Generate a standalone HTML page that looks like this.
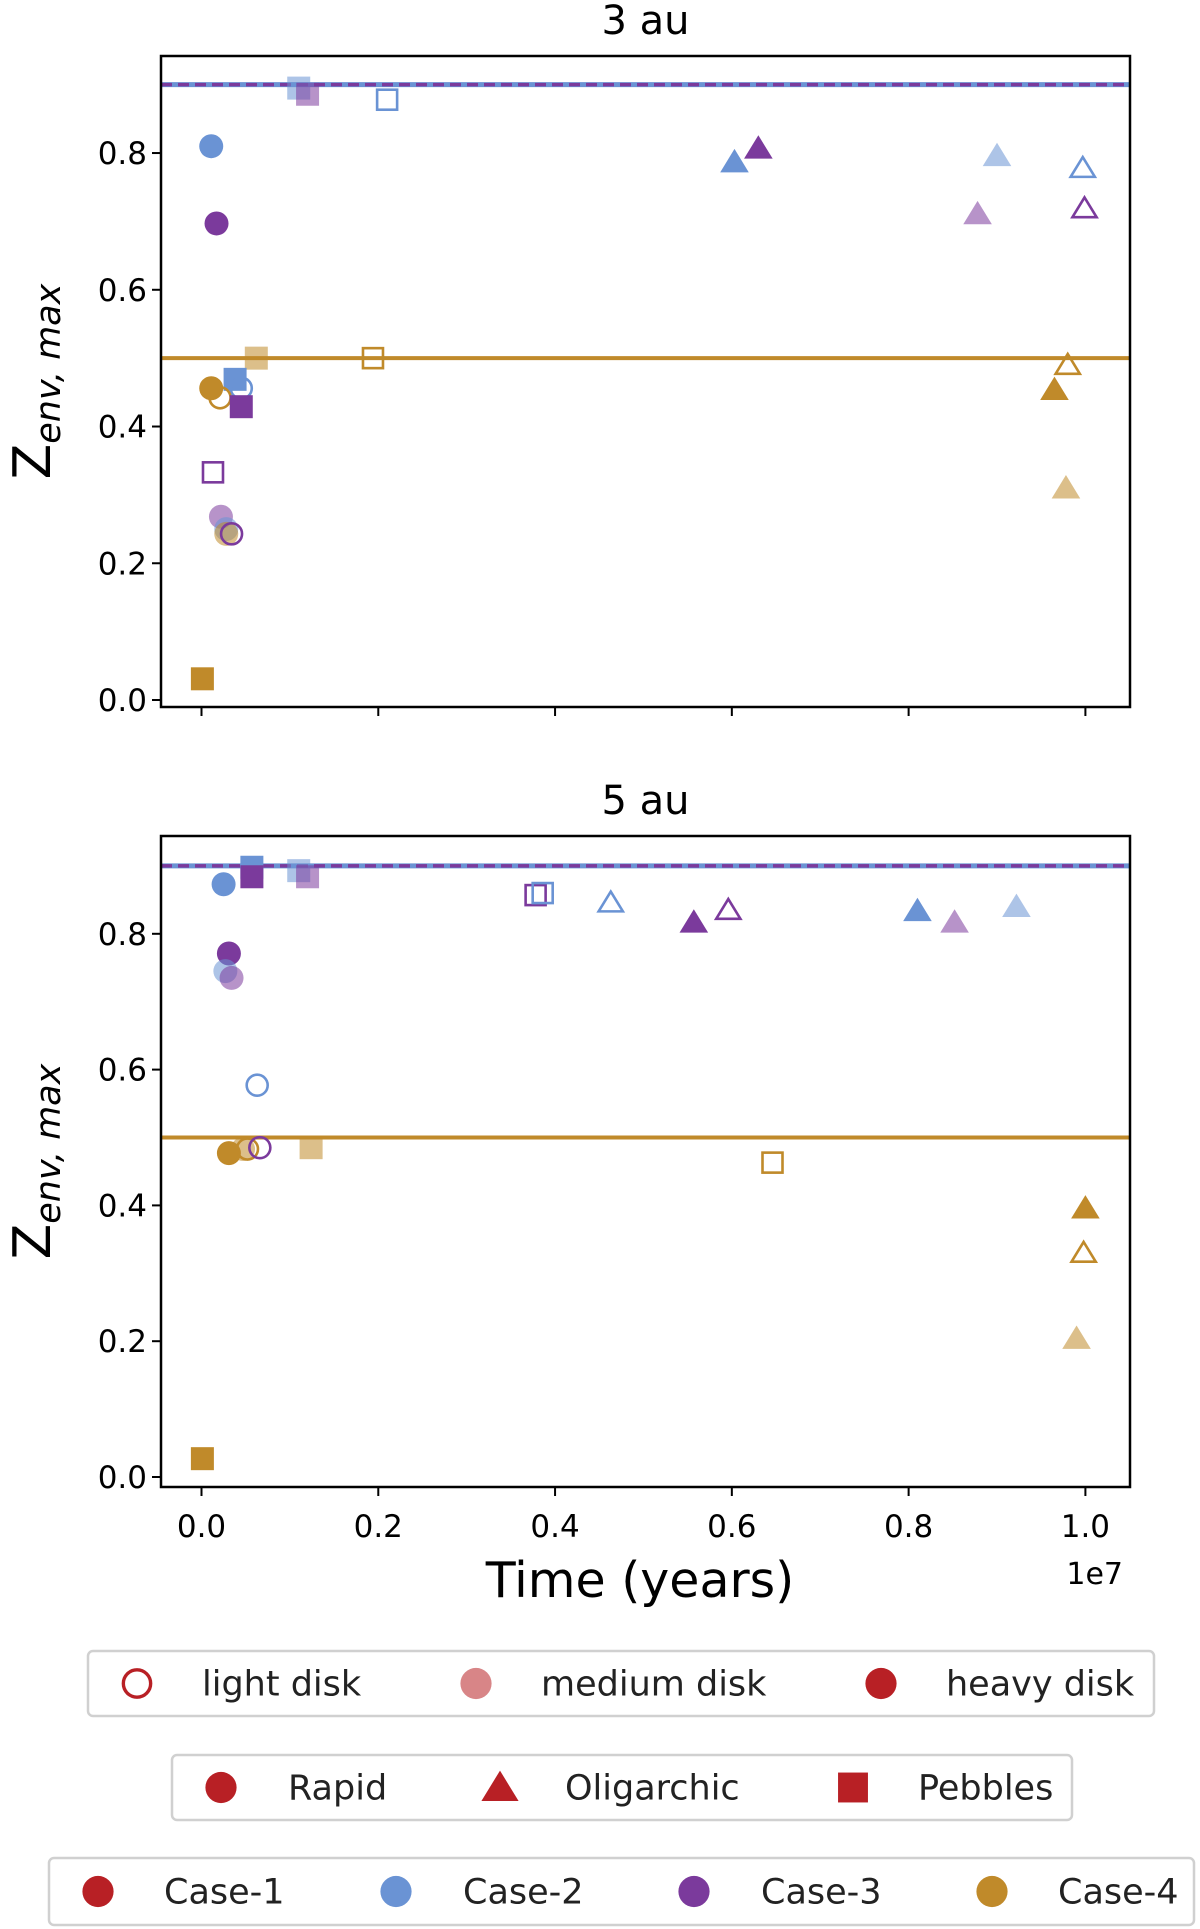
<!DOCTYPE html>
<html><head><meta charset="utf-8"><style>
body{margin:0;background:#fff}
svg{display:block;font-family:"DejaVu Sans","Liberation Sans",sans-serif}
</style></head><body>
<svg id="chart" width="1200" height="1929" viewBox="0 0 1200 1929" xmlns="http://www.w3.org/2000/svg"></svg>
<script>
// ---- data ----
const colors = {c1:"#b82025", c2:"#6a93d4", c3:"#7b3a9c", c4:"#c08a2a"};
const yTicks = [0.0,0.2,0.4,0.6,0.8];
const xTicks = [0.0,0.2,0.4,0.6,0.8,1.0];
// top panel (3 au)
const p3x = [0.11,0.12,0.21,0.011,0.017,0.603,0.63,0.9,0.997,0.878,0.999,0.062,0.194,0.038,0.045,0.011,0.021,0.045,0.98,0.965,0.978,0.013,0.022,0.028,0.028,0.034,0.001];
const p3y = [0.895,0.886,0.878,0.81,0.697,0.787,0.807,0.796,0.778,0.711,0.719,0.5,0.5,0.469,0.456,0.456,0.442,0.429,0.49,0.454,0.31,0.333,0.268,0.25,0.243,0.243,0.031];
const p3case = ["c2","c3","c2","c2","c3","c2","c3","c2","c2","c3","c3","c4","c4","c2","c2","c4","c4","c3","c4","c4","c4","c3","c3","c2","c4","c3","c4"];
const p3disk = ["m","m","l","h","h","h","h","m","l","m","l","m","l","h","l","h","l","h","l","h","m","l","m","m","m","l","h"];
const p3type = ["s","s","s","c","c","t","t","t","t","t","t","s","s","s","c","c","c","s","t","t","t","s","c","c","c","c","s"];
// bottom panel (5 au)
const p5x = [0.057,0.057,0.11,0.12,0.025,0.031,0.027,0.034,0.063,0.031,0.052,0.047,0.066,0.124,0.646,0.378,0.386,0.463,0.557,0.596,0.81,0.852,0.922,1.0,0.998,0.99,0.001];
const p5y = [0.898,0.884,0.893,0.884,0.873,0.771,0.745,0.735,0.577,0.477,0.483,0.483,0.485,0.485,0.463,0.857,0.86,0.846,0.817,0.835,0.834,0.817,0.84,0.396,0.33,0.204,0.027];
const p5case = ["c2","c3","c2","c3","c2","c3","c2","c3","c2","c4","c4","c4","c3","c4","c4","c3","c2","c2","c3","c3","c2","c3","c2","c4","c4","c4","c4"];
const p5disk = ["h","h","m","m","h","h","m","m","l","h","l","m","l","m","l","l","l","l","h","l","h","m","m","h","l","m","h"];
const p5type = ["s","s","s","s","c","c","c","c","c","c","c","c","c","s","s","s","s","t","t","t","t","t","t","t","t","t","s"];
const hLineBlue = 0.9, hLinePurple = 0.9, hLineGold = 0.5;

const NS="http://www.w3.org/2000/svg";
const svg=document.getElementById('chart');
function mk(tag,attrs,parent){const e=document.createElementNS(NS,tag);for(const k in attrs)e.setAttribute(k,attrs[k]);(parent||svg).appendChild(e);return e;}

function marker(g,type,cx,cy,col,disk,scale){
  scale=scale||1;
  let e;
  const st = disk==="l" ? {fill:"none",stroke:col,"stroke-width":2.6*scale} :
             disk==="m" ? {fill:col,"fill-opacity":0.55,stroke:"none"} : {fill:col,stroke:"none"};
  if(type==="c"){const r=(disk==="l"?10.5:12)*scale;e=mk('circle',Object.assign({cx:cx,cy:cy,r:r},st),g);}
  else if(type==="s"){const h=(disk==="l"?10:11.5)*scale;e=mk('rect',Object.assign({x:cx-h,y:cy-h,width:2*h,height:2*h},st),g);}
  else {const s=(disk==="l"?11:13)*scale;e=mk('polygon',Object.assign({points:`${cx},${cy-s} ${cx+s*1.1},${cy+s*0.8} ${cx-s*1.1},${cy+s*0.8}`},st),g);}
  return e;
}

function panel(name,title,top,bottom,y0px,yPer,xs,ys,cs,ds,ts,showXLabels){
  const L=161,R=1130,x0=201.5,x1=1085.4;
  const X=v=>x0+(x1-x0)*v, Y=v=>y0px-yPer*v;
  const g=mk('g',{});
  
  
  const t=mk('text',{x:(L+R)/2,y:top-22,"text-anchor":"middle","font-size":40,fill:"#000"},g);
  t.textContent=title;
  
  
  const hb=mk('line',{x1:L,x2:R,y1:Y(hLineBlue),y2:Y(hLineBlue),stroke:colors.c2,"stroke-width":5},g);
  
  
  const hp=mk('line',{x1:L,x2:R,y1:Y(hLinePurple),y2:Y(hLinePurple),stroke:colors.c3,"stroke-width":3.5,"stroke-dasharray":"11,6"},g);
  
  
  const hg=mk('line',{x1:L,x2:R,y1:Y(hLineGold),y2:Y(hLineGold),stroke:colors.c4,"stroke-width":4},g);
  
  
  for(let i=0;i<xs.length;i++){
    const m=marker(g,ts[i],X(xs[i]),Y(ys[i]),colors[cs[i]],ds[i]);
    
    
  }
  const box=mk('rect',{x:L,y:top,width:R-L,height:bottom-top,fill:"none",stroke:"#000","stroke-width":2.5},g);
  
  
  yTicks.forEach(v=>{
    const tk=mk('line',{x1:L-9,x2:L,y1:Y(v),y2:Y(v),stroke:"#000","stroke-width":2},g);
    
    
    const tl=mk('text',{x:L-14,y:Y(v)+11,"text-anchor":"end","font-size":31,fill:"#000"},g);
    tl.textContent=v.toFixed(1);
    
    
  });
  xTicks.forEach(v=>{
    const tk=mk('line',{x1:X(v),x2:X(v),y1:bottom,y2:bottom+9,stroke:"#000","stroke-width":2},g);
    
    
    if(showXLabels){
      const tl=mk('text',{x:X(v),y:bottom+50,"text-anchor":"middle","font-size":31,fill:"#000"},g);
      tl.textContent=v.toFixed(1);
      
      
    }
  });
  const yl=mk('text',{transform:`translate(50,${(top+bottom)/2}) rotate(-90)`,"text-anchor":"middle",fill:"#000"},g);
  yl.innerHTML='<tspan font-size="52">Z</tspan><tspan font-size="35" font-style="italic" dy="10">env, max</tspan>';
  
  
}
panel('top-3au','3 au',56,707,700,683.7,p3x,p3y,p3case,p3disk,p3type,false);
panel('bottom-5au','5 au',836,1487,1477,679,p5x,p5y,p5case,p5disk,p5type,true);

const xt=mk('text',{x:640,y:1597,"text-anchor":"middle","font-size":49,fill:"#000"});
xt.textContent='Time (years)';


const oe=mk('text',{x:1123,y:1584,"text-anchor":"end","font-size":30,fill:"#000"});
oe.textContent='1e7';



function legend(name,x,y,w,h,entries){
  const g=mk('g',{});
  
  
  mk('rect',{x:x,y:y,width:w,height:h,rx:5,fill:"#fff",stroke:"#d0d0d0","stroke-width":2.5},g);
  const cy=y+h/2;
  entries.forEach(en=>{
    const m=marker(g,en.t,en.mx,cy,en.c,en.d,1.3);
    
    
    const tx=mk('text',{x:en.tx,y:cy+12,"font-size":35,fill:"#222"},g);
    tx.textContent=en.label;
    
    
  });
}
legend('legend-disk',88,1651,1066,65,[
  {t:"c",d:"l",c:colors.c1,mx:137,tx:202,label:"light disk"},
  {t:"c",d:"m",c:colors.c1,mx:476,tx:541,label:"medium disk"},
  {t:"c",d:"h",c:colors.c1,mx:881,tx:946,label:"heavy disk"}]);
legend('legend-mode',172,1755,900,65,[
  {t:"c",d:"h",c:colors.c1,mx:221,tx:288,label:"Rapid"},
  {t:"t",d:"h",c:colors.c1,mx:500,tx:565,label:"Oligarchic"},
  {t:"s",d:"h",c:colors.c1,mx:853,tx:918,label:"Pebbles"}]);
legend('legend-case',49,1858,1145,67,[
  {t:"c",d:"h",c:colors.c1,mx:98,tx:164,label:"Case-1"},
  {t:"c",d:"h",c:colors.c2,mx:396,tx:463,label:"Case-2"},
  {t:"c",d:"h",c:colors.c3,mx:694,tx:761,label:"Case-3"},
  {t:"c",d:"h",c:colors.c4,mx:992,tx:1058,label:"Case-4"}]);
</script>
</body></html>
